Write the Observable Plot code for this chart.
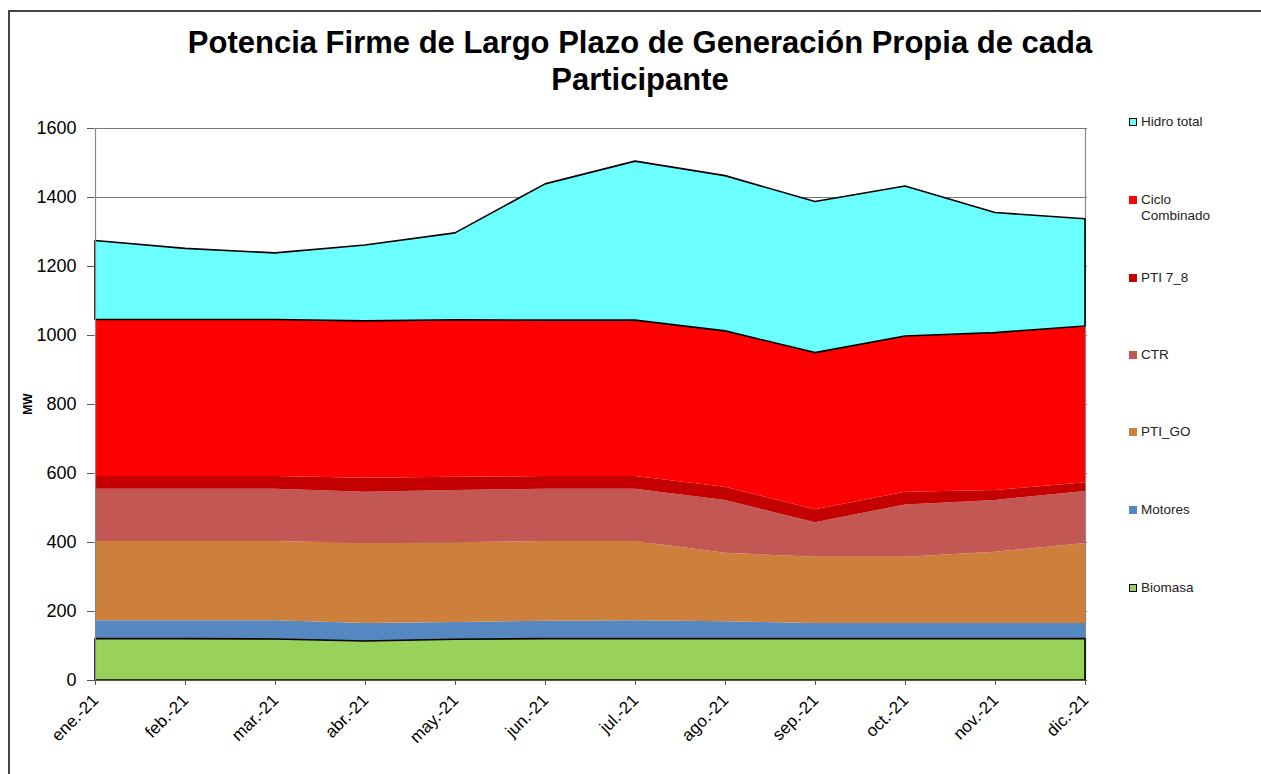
<!DOCTYPE html>
<html>
<head>
<meta charset="utf-8">
<script src="https://cdn.jsdelivr.net/npm/d3@7"></script>
<script src="https://cdn.jsdelivr.net/npm/@observablehq/plot@0.6"></script>
<style>
  html, body { margin: 0; padding: 0; background: #fff; }
  #wrap { position: relative; width: 1261px; height: 774px; overflow: hidden; font-family: "Liberation Sans", Arial, sans-serif; }
  #frame { position: absolute; left: 8px; top: 10px; width: 1400px; height: 900px; border-left: 2px solid #444; border-top: 2px solid #444; }
  #title { position: absolute; left: 0; width: 1261px; top: 24px; text-align: center; font-weight: bold; font-size: 31px; line-height: 37px; color: #000; padding-left: 19px; box-sizing: border-box; }
  #chart { position: absolute; left: 0; top: 118px; }
  #ylabel { position: absolute; left: 28px; top: 404px; transform: translate(-50%, -50%) rotate(-90deg); font-weight: bold; font-size: 12px; color: #000; }
  .leg { position: absolute; left: 1129px; font-size: 13.5px; line-height: 16px; color: #222; }
  .leg .sw { position: absolute; left: 0; top: 4px; width: 8px; height: 8px; box-sizing: border-box; }
  .leg .tx { position: absolute; left: 12px; top: 0; white-space: nowrap; }
</style>
</head>
<body>
<div id="wrap">
  <div id="frame"></div>
  <div id="title">Potencia Firme de Largo Plazo de Generación Propia de cada<br>Participante</div>
  <div id="chart"></div>
  <div id="ylabel">MW</div>
  <div id="legend"></div>
</div>
<script>
// ---- data ----
const months = ["ene.-21","feb.-21","mar.-21","abr.-21","may.-21","jun.-21","jul.-21","ago.-21","sep.-21","oct.-21","nov.-21","dic.-21"];
const seriesNames = ["Biomasa","Motores","PTI_GO","CTR","PTI 7_8","Ciclo Combinado","Hidro total"]; // bottom to top
const biomasa        = [120,120,119,113,118,120,120,120,120,120,120,120];
const motores        = [53,53,54,52,50,52,53,50,45,45,45,45];
const ptiGo          = [230,230,230,232,231,231,230,199,192,192,207,232];
const ctr            = [151,151,151,149,152,151,151,153,100,152,150,151];
const pti78          = [37,37,37,40,38,37,37,38,38,37,29,25];
const cicloCombinado = [454,454,454,455,455,452,452,452,454,451,456,453];
const hidroTotal     = [229,206,193,220,252,395,461,450,438,435,348,311];
const yTicks = [0,200,400,600,800,1000,1200,1400,1600];
const legendOrder = ["Hidro total","Ciclo Combinado","PTI 7_8","CTR","PTI_GO","Motores","Biomasa"];
const legendLabels = ["Hidro total","Ciclo<br>Combinado","PTI 7_8","CTR","PTI_GO","Motores","Biomasa"];

// ---- styles ----
const colors = {
  "Biomasa": "#99D25A",
  "Motores": "#5587C0",
  "PTI_GO": "#CD803C",
  "CTR": "#C35753",
  "PTI 7_8": "#C40000",
  "Ciclo Combinado": "#FF0000",
  "Hidro total": "#6BFFFF"
};
const outlined = new Set(["Hidro total","Biomasa"]);

const valuesBySeries = {
  "Biomasa": biomasa, "Motores": motores, "PTI_GO": ptiGo, "CTR": ctr,
  "PTI 7_8": pti78, "Ciclo Combinado": cicloCombinado, "Hidro total": hidroTotal
};
const data = [];
for (const s of seriesNames) {
  valuesBySeries[s].forEach((v, i) => data.push({series: s, month: months[i], value: v, outline: outlined.has(s) ? 1 : 0}));
}

const chart = Plot.plot({
  width: 1261,
  height: 656,
  marginLeft: 93,
  marginRight: 174,
  marginTop: 10,
  marginBottom: 94,
  style: {fontFamily: "'Liberation Sans', Arial, sans-serif", color: "#000", background: "transparent"},
  x: {type: "point", domain: months, padding: 0},
  y: {domain: [0, 1600]},
  color: {domain: seriesNames, range: seriesNames.map(s => colors[s])},
  opacity: {domain: [0, 1], range: [0, 1]},
  marks: [
    Plot.ruleY(yTicks.slice(1), {stroke: "#777", strokeWidth: 1}),
    Plot.ruleX([months[months.length - 1]], {stroke: "#888", strokeWidth: 1.2}),
    Plot.areaY(data, {x: "month", y: "value", z: "series", fill: "series", order: seriesNames}),
    Plot.areaY(data, {x: "month", y: "value", z: "series", order: seriesNames, fill: "none", stroke: "#000", strokeWidth: 1.6, strokeOpacity: "outline", strokeLinejoin: "miter"}),
    Plot.ruleX([months[0]], {stroke: "#888", strokeWidth: 1.2}),
    Plot.ruleY([0], {stroke: "#555", strokeWidth: 1}),
    Plot.axisY({ticks: yTicks, tickFormat: d => String(d), tickSize: 6, tickPadding: 11, fontSize: 18, label: null, stroke: "#555"}),
    Plot.axisX({tickRotate: -45, tickSize: 5, tickPadding: 12, fontSize: 17, label: null, stroke: "#555"})
  ]
});
document.getElementById("chart").appendChild(chart);

// ---- legend ----
const legendTops = [114, 192, 270, 347, 424, 502, 580];
const leg = document.getElementById("legend");
legendOrder.forEach((s, i) => {
  const d = document.createElement("div");
  d.className = "leg";
  d.style.top = legendTops[i] + "px";
  const border = outlined.has(s) ? "border:1.6px solid #000;" : "";
  d.innerHTML = `<span class="sw" style="background:${colors[s]};${border}"></span><span class="tx">${legendLabels[i]}</span>`;
  leg.appendChild(d);
});
</script>
</body>
</html>
